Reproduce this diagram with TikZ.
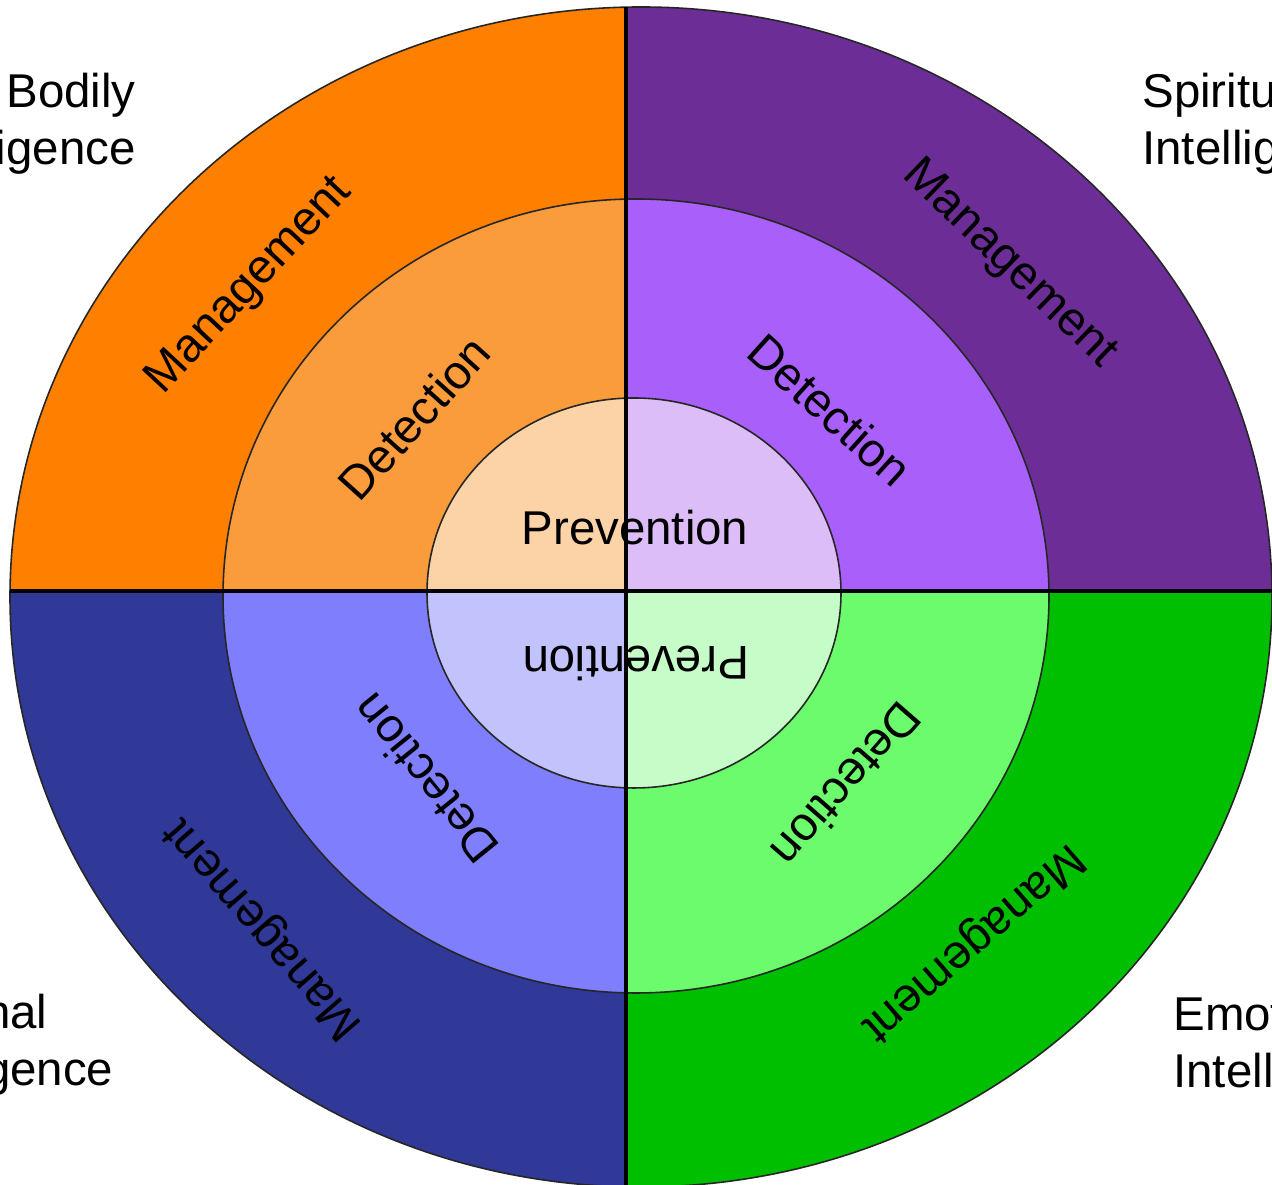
\documentclass[tikz,border=0pt]{standalone}
\usepackage{fontspec}
\setmainfont{Liberation Sans}
\definecolor{bodyout}{HTML}{FF7F00}
\definecolor{bodymid}{HTML}{FA9B3C}
\definecolor{bodyin}{HTML}{FCD3A6}
\definecolor{spiritout}{HTML}{6C2E96}
\definecolor{spiritmid}{HTML}{A95FF9}
\definecolor{spiritin}{HTML}{DCBDF7}
\definecolor{ratioout}{HTML}{303898}
\definecolor{ratiomid}{HTML}{7F7FFD}
\definecolor{ratioin}{HTML}{C2C2FC}
\definecolor{emoout}{HTML}{00BE00}
\definecolor{emomid}{HTML}{6CFB6C}
\definecolor{emoin}{HTML}{C6FCC8}
\begin{document}
\begin{tikzpicture}[x=0.02cm, y=0.02cm,
  ring/.style={draw=black!85, line width=0.9pt},
  divider/.style={draw=black, line width=2.3pt},
  lbl/.style={font=\fontsize{27}{32.6}\selectfont, inner sep=0pt}]
\useasboundingbox (0,0) rectangle (1272,1185);
\clip (0,0) rectangle (1272,1185);
\begin{scope}
\clip (0,594) rectangle (626,1185);
\fill[bodyout] (641,588) ellipse [x radius=631, y radius=590];
\fill[bodymid] (636,589) ellipse [x radius=413, y radius=397];
\fill[bodyin] (634,592) ellipse [x radius=207, y radius=195];
\end{scope}
\begin{scope}
\clip (626,594) rectangle (1272,1185);
\fill[spiritout] (641,588) ellipse [x radius=631, y radius=590];
\fill[spiritmid] (636,589) ellipse [x radius=413, y radius=397];
\fill[spiritin] (634,592) ellipse [x radius=207, y radius=195];
\end{scope}
\begin{scope}
\clip (0,0) rectangle (626,594);
\fill[ratioout] (641,588) ellipse [x radius=631, y radius=590];
\fill[ratiomid] (636,589) ellipse [x radius=413, y radius=397];
\fill[ratioin] (634,592) ellipse [x radius=207, y radius=195];
\end{scope}
\begin{scope}
\clip (626,0) rectangle (1272,594);
\fill[emoout] (641,588) ellipse [x radius=631, y radius=590];
\fill[emomid] (636,589) ellipse [x radius=413, y radius=397];
\fill[emoin] (634,592) ellipse [x radius=207, y radius=195];
\end{scope}
\draw[ring] (641,588) ellipse [x radius=631, y radius=590];
\draw[ring] (636,589) ellipse [x radius=413, y radius=397];
\draw[ring] (634,592) ellipse [x radius=207, y radius=195];
\coordinate (vtop) at (626,1178);
\coordinate (vbot) at (626,0);
\coordinate (hleft) at (10,594);
\coordinate (hright) at (1272,594);
\draw[divider] (vtop) -- (vbot);
\draw[divider] (hleft) -- (hright);
\node[lbl, anchor=base] (prevtop) at (635,640) {Prevention};
\node[lbl, anchor=base, rotate=180] (prevbot) at (636,538) {Prevention};
\node[lbl, rotate=47] (mgmtbody) at (250,899) {Management};
\node[lbl, rotate=48] (detbody) at (414,767) {Detection};
\node[lbl, rotate=-44] (mgmtspirit) at (1009,921) {Management};
\node[lbl, rotate=-42] (detspirit) at (830,775) {Detection};
\node[lbl, rotate=131] (mgmtratio) at (264,257) {Management};
\node[lbl, rotate=129] (detratio) at (425,406) {Detection};
\node[lbl, rotate=-139] (mgmtemo) at (972,243) {Management};
\node[lbl, rotate=-131] (detemo) at (847,400) {Detection};
\node[lbl, anchor=north east, align=right] (bodily) at (136,1112) {Bodily\\Intelligence};
\node[lbl, anchor=north west, align=left] (spiritual) at (1142,1112) {Spiritual\\Intelligence};
\node[lbl, anchor=north west, align=left] (rational) at (-127,191) {Rational\\Intelligence};
\node[lbl, anchor=north west, align=left] (emotional) at (1173,189) {Emotional\\Intelligence};
\end{tikzpicture}
\end{document}
